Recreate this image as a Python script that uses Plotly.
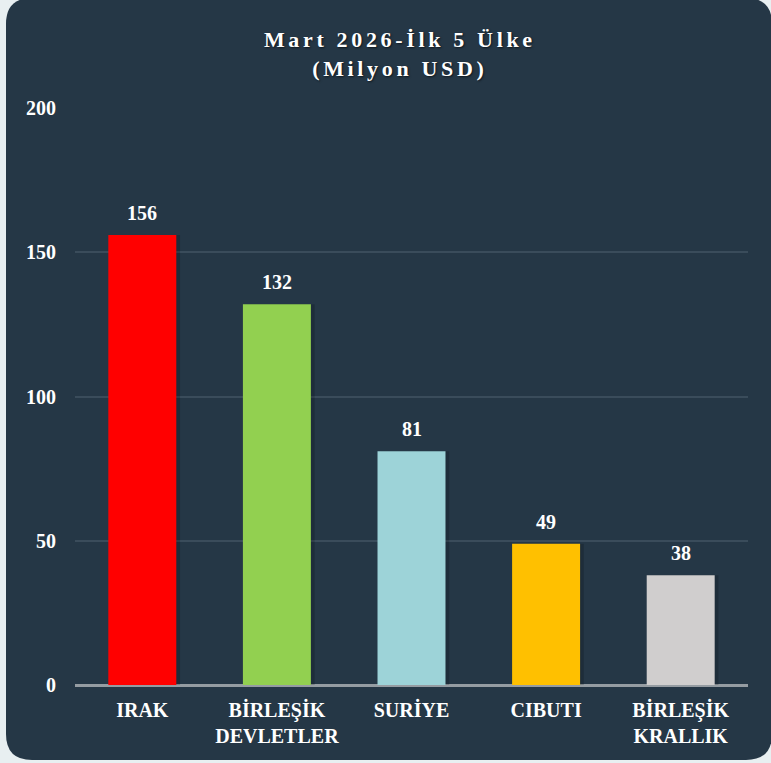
import plotly.graph_objects as go

countries = ['IRAK', 'BİRLEŞİK<br>DEVLETLER', 'SURİYE', 'CIBUTI', 'BİRLEŞİK<br>KRALLIK']
values = [156, 132, 81, 49, 38]
bar_colors = ['#FF0000', '#92D050', '#9DD3D8', '#FFC000', '#D0CECE']
y_ticks = [0, 50, 100, 150, 200]

panel_color = '#253746'
outer_color = '#E8EFF1'
font_family = 'Liberation Serif'

W, H = 771, 763
ML, MR, MT, MB = 75, 23, 108, 78
PW, PH = W - ML - MR, H - MT - MB
BAR_W = 0.505


def spaced(text):
    # poor man's letter spacing
    return '\u2006'.join(text)


def px_x(x):
    return (x - ML) / PW


def px_y(y):
    return (H - MB - y) / PH


def rounded_panel(x0, y0, x1, y1, r):
    rx, ry = r / PW, r / PH
    a, b, c, d = px_x(x0), px_y(y1), px_x(x1), px_y(y0)
    return (f'M {a + rx} {d} L {c - rx} {d} Q {c} {d} {c} {d - ry} '
            f'L {c} {b + ry} Q {c} {b} {c - rx} {b} '
            f'L {a + rx} {b} Q {a} {b} {a} {b + ry} '
            f'L {a} {d - ry} Q {a} {d} {a + rx} {d} Z')


fig = go.Figure()

# soft shadow behind bars
fig.add_trace(go.Bar(
    x=countries, y=values, width=BAR_W, offset=-BAR_W / 2 + 0.028,
    marker=dict(color='rgba(0,0,0,0.17)', line=dict(width=0)),
    hoverinfo='skip',
))
fig.add_trace(go.Bar(
    x=countries, y=values, width=BAR_W, offset=-BAR_W / 2,
    marker=dict(color=bar_colors, line=dict(width=0)),
    hoverinfo='x+y',
))

for c, v in zip(countries, values):
    fig.add_annotation(
        x=c, y=v, text=f'<b>{v}</b>', showarrow=False,
        yanchor='bottom', yshift=9,
        font=dict(family=font_family, size=20, color='white'),
    )

fig.update_layout(
    width=W, height=H,
    margin=dict(l=ML, r=MR, t=MT, b=MB),
    paper_bgcolor=outer_color,
    plot_bgcolor='rgba(0,0,0,0)',
    barmode='overlay',
    showlegend=False,
    title=dict(
        text='<b>' + spaced('Mart 2026-İlk 5 Ülke') + '<br>' + spaced('(Milyon USD)') + '</b>',
        x=px_x(398), xref='paper', xanchor='center',
        y=1 - 47 / H, yanchor='middle',
        font=dict(family=font_family, size=22, color='white',
                  shadow='1px 1px 2px rgba(0,0,0,0.6)'),
    ),
    xaxis=dict(
        showgrid=False,
        showline=False,
        ticks='',
        ticklabelstandoff=11,
        tickfont=dict(family=font_family, size=20, color='white', weight='bold'),
    ),
    yaxis=dict(
        range=[0, 200],
        tickvals=y_ticks,
        showgrid=True,
        gridcolor='#3A4C5B',
        gridwidth=1.5,
        zeroline=True,
        zerolinecolor='#959CA2',
        zerolinewidth=3,
        showline=False,
        ticks='',
        ticklabelstandoff=18,
        tickfont=dict(family=font_family, size=20, color='white', weight='bold'),
    ),
    shapes=[dict(
        type='path', xref='paper', yref='paper', layer='below',
        path=rounded_panel(6, -2, 772, 760, 26),
        fillcolor=panel_color, line=dict(width=0),
    )],
)

fig.write_html("out.html", config={'displayModeBar': False},
               post_script="document.body.style.margin='0';")
